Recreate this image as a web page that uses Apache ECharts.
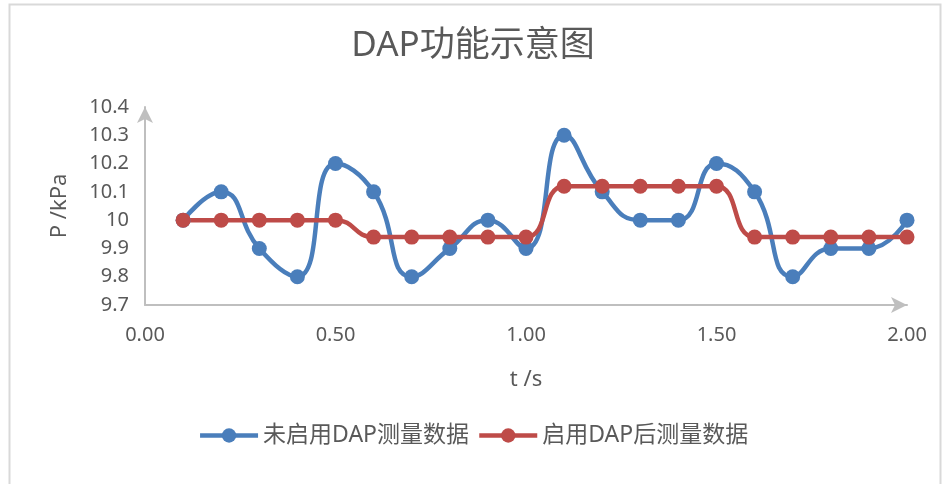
<!DOCTYPE html>
<html>
<head>
<meta charset="utf-8">
<script src="https://cdn.jsdelivr.net/npm/echarts@6/dist/echarts.min.js"></script>
<style>
  html, body { margin: 0; padding: 0; background: #fff; }
  #chart { width: 946px; height: 484px; }
</style>
</head>
<body>
<div id="chart"></div>
<script>
const times = [0.1, 0.2, 0.3, 0.4, 0.5, 0.6, 0.7, 0.8, 0.9, 1.0, 1.1, 1.2, 1.3, 1.4, 1.5, 1.6, 1.7, 1.8, 1.9, 2.0]
const rawValues = [10, 10.1, 9.9, 9.8, 10.2, 10.1, 9.8, 9.9, 10, 9.9, 10.3, 10.1, 10, 10, 10.2, 10.1, 9.8, 9.9, 9.9, 10]
const dapValues = [10, 10, 10, 10, 10, 9.94, 9.94, 9.94, 9.94, 9.94, 10.12, 10.12, 10.12, 10.12, 10.12, 9.94, 9.94, 9.94, 9.94, 9.94]
const seriesNames = ['未启用DAP测量数据', '启用DAP后测量数据']

const font = "'Noto Sans', 'Noto Sans CJK SC', sans-serif"
const axisColor = '#bfbfbf'
const textColor = '#595959'

const chart = echarts.init(document.getElementById('chart'), null, { renderer: 'canvas' })

const toPairs = (vals) => times.map((t, i) => [t, vals[i]])

const option = {
  animation: false,
  backgroundColor: '#fff',
  title: {
    text: 'DAP功能示意图',
    left: 'center',
    top: 24,
    textStyle: { fontFamily: font, fontSize: 35, fontWeight: 'normal', color: textColor },
  },
  graphic: [
    {
      type: 'rect',
      shape: { x: 9.5, y: 4.5, width: 931, height: 490 },
      style: { fill: 'none', stroke: '#d9d9d9', lineWidth: 2 },
      silent: true,
    },
  ],
  legend: {
    top: 419,
    left: 'center',
    itemWidth: 58,
    itemHeight: 18,
    itemGap: 8,
    lineStyle: { width: 4.5 },
    textStyle: { fontFamily: font, fontSize: 23, color: textColor },
    data: seriesNames,
  },
  grid: { left: 145, right: 39, top: 107, bottom: 179, containLabel: false },
  xAxis: {
    type: 'value',
    min: 0,
    max: 2,
    interval: 0.5,
    name: 't /s',
    nameLocation: 'middle',
    nameGap: 64,
    nameTextStyle: { fontFamily: font, fontSize: 22, color: textColor },
    axisLine: { show: true, symbol: ['none', 'arrow'], symbolSize: [12, 16], lineStyle: { color: axisColor, width: 2 } },
    axisTick: { show: false },
    splitLine: { show: false },
    axisLabel: {
      fontFamily: font, fontSize: 20, color: textColor, margin: 20,
      formatter: (v) => v.toFixed(2),
    },
  },
  yAxis: {
    type: 'value',
    min: 9.7,
    max: 10.4,
    interval: 0.1,
    name: 'P /kPa',
    nameLocation: 'middle',
    nameGap: 74,
    nameRotate: 90,
    nameTextStyle: { fontFamily: font, fontSize: 22, color: textColor },
    axisLine: { show: true, symbol: ['none', 'arrow'], symbolSize: [12, 16], lineStyle: { color: axisColor, width: 2 } },
    axisTick: { show: false },
    splitLine: { show: false },
    axisLabel: {
      fontFamily: font, fontSize: 20, color: textColor, margin: 16,
      formatter: (v) => String(Math.round(v * 10) / 10),
    },
  },
  series: [
    {
      name: seriesNames[0],
      type: 'line',
      data: toPairs(rawValues),
      smooth: 0.5,
      symbol: 'circle',
      symbolSize: 15,
      lineStyle: { color: '#4a7ebb', width: 4.5 },
      itemStyle: { color: '#4a7ebb' },
    },
    {
      name: seriesNames[1],
      type: 'line',
      data: toPairs(dapValues),
      smooth: 0.5,
      symbol: 'circle',
      symbolSize: 15,
      lineStyle: { color: '#be4b48', width: 4.5 },
      itemStyle: { color: '#be4b48' },
    },
  ],
}

chart.setOption(option)
</script>
</body>
</html>
